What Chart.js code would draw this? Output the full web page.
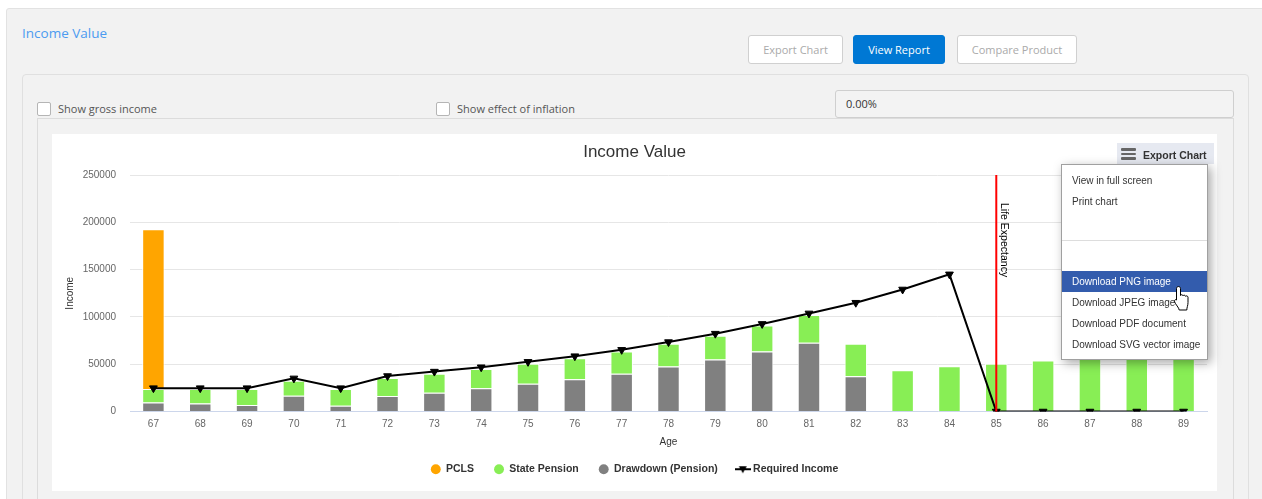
<!DOCTYPE html>
<html><head><meta charset="utf-8">
<script src="https://cdn.jsdelivr.net/npm/chart.js@4/dist/chart.umd.min.js"></script>
<style>
html,body{margin:0;padding:0;}
body{background:#fff;width:1262px;height:499px;overflow:hidden;position:relative;font-family:"Open Sans",sans-serif;}
.a{position:absolute;box-sizing:border-box;}
#outer{left:6px;top:8px;width:1270px;height:520px;background:#f2f2f2;border:1px solid #e2e2e2;border-radius:3px;}
#heading{left:22px;top:24px;font-size:13.5px;color:#4c9bf0;white-space:nowrap;}
.btn{top:35px;height:29px;border:1px solid #d0d0d0;border-radius:3px;background:#fff;color:#aaa;font-size:11px;line-height:27px;text-align:center;white-space:nowrap;}
#inner{left:22px;top:74px;width:1227px;height:460px;border:1px solid #e0e0e0;border-radius:4px;background:#f2f2f2;}
.cb{width:14px;height:14px;background:#fff;border:1px solid #b5b5b5;border-radius:2px;}
.lbl{font-size:11px;color:#555;white-space:nowrap;line-height:14px;}
#rate{left:835px;top:90px;width:399px;height:28px;border:1px solid #cfcfcf;border-radius:3px;background:#f3f3f3;font-size:11px;color:#333;line-height:26px;padding-left:10px;}
#cont{left:37px;top:118px;width:1197px;height:420px;border-top:1px solid #dcdcdc;border-left:1px solid #dcdcdc;border-right:1px solid #dcdcdc;background:#f2f2f2;}
#white{left:52px;top:134px;width:1165px;height:357px;background:#fff;}
#chart{position:absolute;left:52px;top:134px;}
#exp{left:1117px;top:143px;width:97px;height:21px;background:#e6e9f1;}
.hb{left:1121px;width:15px;height:2.5px;background:#666;border-radius:1px;}
#expt{left:1143px;top:148.5px;font:bold 10.5px "Liberation Sans",Arial,sans-serif;color:#333;white-space:nowrap;}
#menu{left:1061px;top:164px;width:147px;height:196px;background:#fff;border:1px solid #a0a0a0;box-shadow:3px 3px 10px rgba(0,0,0,0.35);}
.mi{left:1062px;width:145px;height:21px;font:10px "Liberation Sans",Arial,sans-serif;color:#333;line-height:21px;padding-left:10px;white-space:nowrap;}
#sep{left:1062px;top:240px;width:145px;height:1px;background:#ddd;}
</style></head>
<body>
<div class="a" id="outer"></div>
<div class="a" id="heading">Income Value</div>
<div class="a btn" style="left:748px;width:95px;">Export Chart</div>
<div class="a btn" style="left:853px;width:92px;background:#0078d4;border-color:#0078d4;color:#fff;">View Report</div>
<div class="a btn" style="left:957px;width:120px;">Compare Product</div>
<div class="a" id="inner"></div>
<div class="a" id="rate">0.00%</div>
<div class="a" id="cont"></div>
<div class="a cb" style="left:37px;top:102px;"></div>
<div class="a lbl" style="left:58px;top:102px;">Show gross income</div>
<div class="a cb" style="left:436px;top:102px;"></div>
<div class="a lbl" style="left:457px;top:102px;">Show effect of inflation</div>
<div class="a" id="white"></div>
<canvas id="chart" width="1165" height="357"></canvas>
<div class="a" id="exp"></div>
<div class="a hb" style="top:148px;"></div>
<div class="a hb" style="top:152.5px;"></div>
<div class="a hb" style="top:157px;"></div>
<div class="a" id="expt">Export Chart</div>
<div class="a" id="menu"></div>
<div class="a mi" style="top:169.5px;">View in full screen</div>
<div class="a mi" style="top:190.5px;">Print chart</div>
<div class="a" id="sep"></div>
<div class="a mi" style="top:271px;background:#335cad;color:#fff;">Download PNG image</div>
<div class="a mi" style="top:291.5px;">Download JPEG image</div>
<div class="a mi" style="top:312.5px;">Download PDF document</div>
<div class="a mi" style="top:333.5px;">Download SVG vector image</div>
<svg class="a" style="left:1173px;top:285px;" width="19" height="27" viewBox="0 0 19 27">
<path d="M5.5 1.5 C6.6 1.5 7.5 2.4 7.5 3.5 V10.5 C7.8 9.4 9.8 9.4 10 10.8 C10.3 9.9 12.3 9.9 12.5 11.3 C12.8 10.6 14.8 10.6 15 12.2 V17.5 C15 20.5 13.8 22.5 13.8 25 H6.2 C6.2 23 2.2 19 1.6 16.8 C1.1 15 2.6 14 3.5 15 V3.5 C3.5 2.4 4.4 1.5 5.5 1.5 Z" fill="#fff" stroke="#000" stroke-width="1"/>
</svg>
<script>
const ages = ['67','68','69','70','71','72','73','74','75','76','77','78','79','80','81','82','83','84','85','86','87','88','89'];
const pclsValues = [169000,null,null,null,null,null,null,null,null,null,null,null,null,null,null,null,null,null,null,null,null,null,null];
const statePensionValues = [14200,15200,16700,15900,17700,19100,20100,20500,21000,22400,23500,24100,25000,27300,29200,34400,43600,47900,50400,53900,56000,58000,60000];
const drawdownValues = [9500,8500,7000,16600,6000,16400,19900,24500,29400,34000,40000,47500,55000,63500,72700,37200,null,null,null,null,null,null,null];
const requiredIncomeValues = [24700,24700,24700,35000,24700,37500,42200,46800,52500,58500,65200,73400,82300,92600,103700,115000,129000,145000,0,0,0,0,0];
const yTickValues = [0,50000,100000,150000,200000,250000];
const lifeExpectancyAge = '85';

Chart.defaults.font.family = '"Liberation Sans", Arial, sans-serif';

// legend symbol for the line series: line + down triangle
const lineSym = document.createElement('canvas');
lineSym.width = 16; lineSym.height = 10;
(function(){
  const c = lineSym.getContext('2d');
  c.strokeStyle = '#000'; c.lineWidth = 2;
  c.beginPath(); c.moveTo(0,5); c.lineTo(16,5); c.stroke();
  c.fillStyle = '#000';
  c.beginPath(); c.moveTo(4,2); c.lineTo(12,2); c.lineTo(8,9); c.closePath(); c.fill();
})();

const lifeLine = {
  id: 'lifeLine',
  afterDatasetsDraw(chart) {
    const xs = chart.scales.x;
    const x = xs.getPixelForValue(ages.indexOf(lifeExpectancyAge));
    const {top, bottom} = chart.chartArea;
    const ctx = chart.ctx;
    ctx.save();
    ctx.strokeStyle = '#ff0000'; ctx.lineWidth = 2;
    ctx.beginPath(); ctx.moveTo(x, top); ctx.lineTo(x, bottom); ctx.stroke();
    ctx.translate(x + 8, top + 28);
    ctx.rotate(Math.PI / 2);
    ctx.font = '10.5px "Liberation Sans", Arial, sans-serif';
    ctx.fillStyle = '#000'; ctx.textBaseline = 'middle'; ctx.textAlign = 'left';
    ctx.fillText('Life Expectancy', 0, 0);
    ctx.restore();
  }
};

const legendRank = {2:0, 1:1, 0:2, 3:3};

new Chart(document.getElementById('chart'), {
  type: 'bar',
  data: {
    labels: ages,
    datasets: [
      {label:'Drawdown (Pension)', data: drawdownValues, backgroundColor:'#808080', borderColor:'#ffffff', borderWidth:1, barPercentage:0.48, categoryPercentage:1},
      {label:'State Pension', data: statePensionValues, backgroundColor:'#88ee55', borderColor:'#ffffff', borderWidth:1, barPercentage:0.48, categoryPercentage:1},
      {label:'PCLS', data: pclsValues, backgroundColor:'#ffa500', borderColor:'#ffffff', borderWidth:1, barPercentage:0.48, categoryPercentage:1},
      {type:'line', label:'Required Income', data: requiredIncomeValues, stack:'line', order:-1,
       borderColor:'#000', backgroundColor:'#000', borderWidth:2, tension:0,
       pointStyle:'triangle', rotation:180, pointRadius:4.5, pointBorderWidth:1, pointBackgroundColor:'#000', pointBorderColor:'#000'}
    ]
  },
  options: {
    responsive: false,
    animation: false,
    layout: {padding: {left:10, right:10, top:0, bottom:6.5}},
    plugins: {
      tooltip: {enabled:false},
      title: {display:true, text:'Income Value', color:'#333', font:{size:17, weight:'normal'}, padding:{top:7.8, bottom:12.8}},
      legend: {
        position:'bottom',
        labels: {
          usePointStyle:true, boxWidth:10, boxHeight:7, padding:20, color:'#333',
          font:{size:10.5, weight:'bold'},
          sort: (a,b) => legendRank[a.datasetIndex] - legendRank[b.datasetIndex],
          generateLabels(chart) {
            const items = Chart.defaults.plugins.legend.labels.generateLabels(chart);
            items.forEach(it => {
              it.lineWidth = 0; it.rotation = 0;
              if (it.datasetIndex === 3) it.pointStyle = lineSym;
              else it.pointStyle = 'circle';
            });
            return items;
          }
        }
      }
    },
    scales: {
      x: {
        stacked:true,
        grid:{display:false, drawTicks:false},
        border:{color:'#ccd6eb', width:1},
        ticks:{color:'#666', font:{size:10}, padding:6.5, autoSkip:false, maxRotation:0},
        title:{display:true, text:'Age', color:'#333', font:{size:10}, padding:{top:0, bottom:-3.8}},
        afterFit(s){ s.height = 32.5; }
      },
      y: {
        stacked:true, min:0, max:250000,
        afterBuildTicks(s){ s.ticks = yTickValues.map(v => ({value:v})); },
        grid:{color: c => (c.tick && c.tick.value === 0) ? 'rgba(0,0,0,0)' : '#e6e6e6', drawTicks:false},
        border:{display:false},
        ticks:{color:'#666', font:{size:10}, padding:14, callback: v => String(v)},
        title:{display:true, text:'Income', color:'#333', font:{size:10}, padding:{top:2, bottom:0}},
        afterFit(s){ s.width = 68; }
      }
    }
  },
  plugins: [lifeLine]
});
</script>
</body></html>
